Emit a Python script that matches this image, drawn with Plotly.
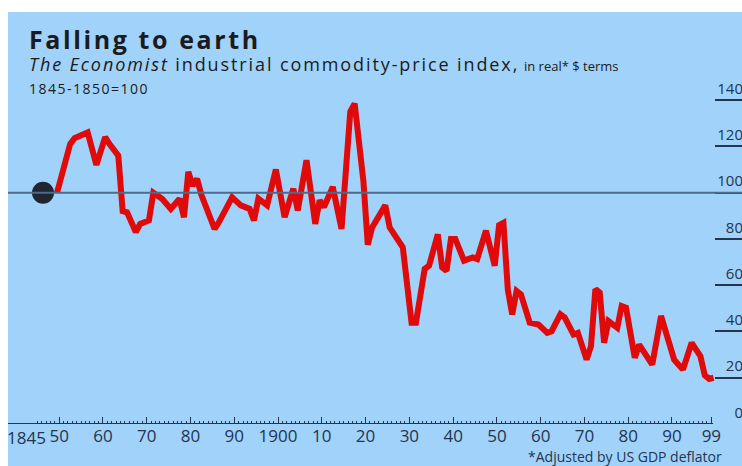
import plotly.graph_objects as go

# Economist industrial commodity-price index, real terms (1845-1850 = 100)
years = [1849, 1852, 1853, 1856, 1858, 1860, 1861, 1863, 1864, 1865,
         1867, 1868, 1870, 1871, 1873, 1875, 1877, 1878, 1879, 1880,
         1881, 1882, 1885, 1886, 1889, 1891, 1893, 1894, 1895, 1897,
         1899, 1901, 1903, 1904, 1906, 1908, 1909, 1910, 1912, 1914,
         1916, 1917, 1919, 1920, 1921, 1924, 1925, 1928, 1930, 1931,
         1933, 1934, 1936, 1937, 1938, 1939, 1940, 1942, 1944, 1945,
         1947, 1949, 1950, 1951, 1952, 1953, 1954, 1955, 1957, 1959,
         1961, 1962, 1964, 1965, 1967, 1968, 1970, 1971, 1972, 1973,
         1974, 1975, 1977, 1978, 1979, 1981, 1982, 1984, 1985, 1987,
         1990, 1992, 1994, 1996, 1997, 1998, 1999]
index_values = [100, 121, 123.5, 126, 112, 124, 121, 116, 92, 91.5,
                83, 86.5, 88, 100, 97.4, 93, 97.4, 89.4, 109, 103,
                106, 99, 84.3, 87.3, 98, 94.5, 93, 88, 97.4, 94.5,
                110, 89.4, 101.7, 92.3, 114, 86.5, 96.7, 93.8, 102.5, 84.3,
                135, 138.5, 105, 77.5, 85, 94.5, 85, 76.4, 43.8, 43.8,
                67, 68.4, 82, 67.7, 66.2, 80, 80, 70.6, 72, 71.3,
                83.6, 68.4, 86, 87, 58, 47.4, 57.5, 56, 43.8, 43,
                39.4, 40.1, 47.4, 46, 38.7, 39.4, 27.8, 33.6, 58.3, 56.8,
                35.1, 44.5, 41.6, 51, 50.3, 28.6, 34.3, 27.8, 25.7, 46.7,
                27.8, 23.5, 35.1, 29.3, 21, 19.5, 20]

# Base period marker
base_year = 1846.3
base_value = 100

# Axis ticks and labels
x_major_ticks = [1850, 1860, 1870, 1880, 1890, 1900, 1910, 1920, 1930,
                 1940, 1950, 1960, 1970, 1980, 1990, 1999]
x_major_labels = ["50", "60", "70", "80", "90", "1900", "10", "20", "30",
                  "40", "50", "60", "70", "80", "90", "99"]
x_minor_ticks = list(range(1845, 2000))
first_label = "1845"
y_ticks = [0, 20, 40, 60, 80, 100, 120, 140]

X_RANGE = [1838.3, 2006.0]
Y_RANGE = [0, 150]
MID_YEAR = 0.5  # annual readings are plotted at mid-year

# Pixel layout helpers (figure is 742 x 466)
W, H = 742, 466
L, R, T, B = 8, 742, 77, 424


def px_x(px):
    return (px - L) / (R - L)


def px_y(py):
    return (B - py) / (B - T)


def spaced(text, px):
    return f"<span style='letter-spacing:{px}px'>{text}</span>"


BG = "#a0d2fa"
RED = "#e00a0a"
INK = "#1b1b1b"
AX = "#24354f"
REF = "#4d6b8a"
FONT = "Open Sans"

fig = go.Figure()

fig.add_trace(go.Scatter(
    x=[y + MID_YEAR for y in years], y=index_values, mode="lines",
    line=dict(color=RED, width=6),
    hoverinfo="skip",
))
fig.add_trace(go.Scatter(
    x=[base_year], y=[base_value], mode="markers",
    marker=dict(size=22, color="#1f2630", line=dict(width=0)),
    hoverinfo="skip",
))
# carrier for the yearly tick axis
fig.add_trace(go.Scatter(x=[X_RANGE[0]], y=[None], xaxis="x2",
                         mode="lines", hoverinfo="skip"))

shapes = [
    # blue panel behind everything
    dict(type="rect", xref="paper", yref="paper",
         x0=0, x1=1, y0=px_y(470), y1=px_y(12),
         fillcolor=BG, line=dict(width=0), layer="below"),
    # reference line at 100
    dict(type="line", xref="paper", yref="y", x0=0, x1=1,
         y0=100, y1=100, line=dict(color=REF, width=2)),
    # baseline
    dict(type="line", xref="x", yref="y", x0=X_RANGE[0], x1=1999.4,
         y0=0, y1=0, line=dict(color=AX, width=2)),
]

annotations = [
    dict(text="<b>" + spaced("Falling to earth", 2.6) + "</b>",
         xref="paper", yref="paper",
         x=px_x(27), y=px_y(39), xanchor="left", yanchor="middle",
         showarrow=False, font=dict(family=FONT, size=25, color=INK)),
    dict(text=spaced("<i>The Economist</i> industrial commodity-price index,", 1.9)
         + " <span style='font-size:13px'>in real* $ terms</span>",
         xref="paper", yref="paper",
         x=px_x(27), y=px_y(64), xanchor="left", yanchor="middle",
         showarrow=False, font=dict(family=FONT, size=18, color=INK)),
    dict(text=spaced("1845-1850=100", 1.5), xref="paper", yref="paper",
         x=px_x(27), y=px_y(88), xanchor="left", yanchor="middle",
         showarrow=False, font=dict(family=FONT, size=14, color=INK)),
    dict(text=first_label, xref="x", yref="paper",
         x=x_major_ticks[0], y=px_y(437), xanchor="right", yanchor="middle",
         xshift=-11, showarrow=False,
         font=dict(family=FONT, size=17, color=AX)),
    dict(text="*Adjusted by US GDP deflator", xref="paper", yref="paper",
         x=px_x(724), y=px_y(456), xanchor="right", yanchor="middle",
         showarrow=False, font=dict(family=FONT, size=14, color=AX)),
]

fig.update_layout(
    width=W, height=H,
    margin=dict(l=L, r=W - R, t=T, b=H - B, pad=0, autoexpand=False),
    paper_bgcolor="white",
    plot_bgcolor=BG,
    showlegend=False,
    shapes=shapes,
    annotations=annotations,
    xaxis=dict(
        range=X_RANGE, tickmode="array", automargin=False,
        tickvals=x_major_ticks, ticktext=x_major_labels,
        ticks="inside", ticklen=7, tickwidth=1, tickcolor=AX,
        showgrid=False, zeroline=False, showline=False,
        tickfont=dict(family=FONT, size=17, color=AX),
    ),
    xaxis2=dict(
        range=X_RANGE, overlaying="x", anchor="y", side="bottom",
        automargin=False,
        tickmode="array", tickvals=x_minor_ticks,
        ticks="inside", ticklen=3, tickwidth=1, tickcolor=AX,
        showticklabels=False, showgrid=False, zeroline=False,
        showline=False,
    ),
    yaxis=dict(
        range=Y_RANGE, side="right", tickmode="array", tickvals=y_ticks,
        automargin=False,
        ticks="inside", ticklen=27, tickwidth=2, tickcolor=AX,
        ticklabelposition="inside top", ticklabelstandoff=-4,
        showgrid=False, zeroline=False, showline=False,
        tickfont=dict(family=FONT, size=15, color=AX),
    ),
)

fig.write_html("out.html")
